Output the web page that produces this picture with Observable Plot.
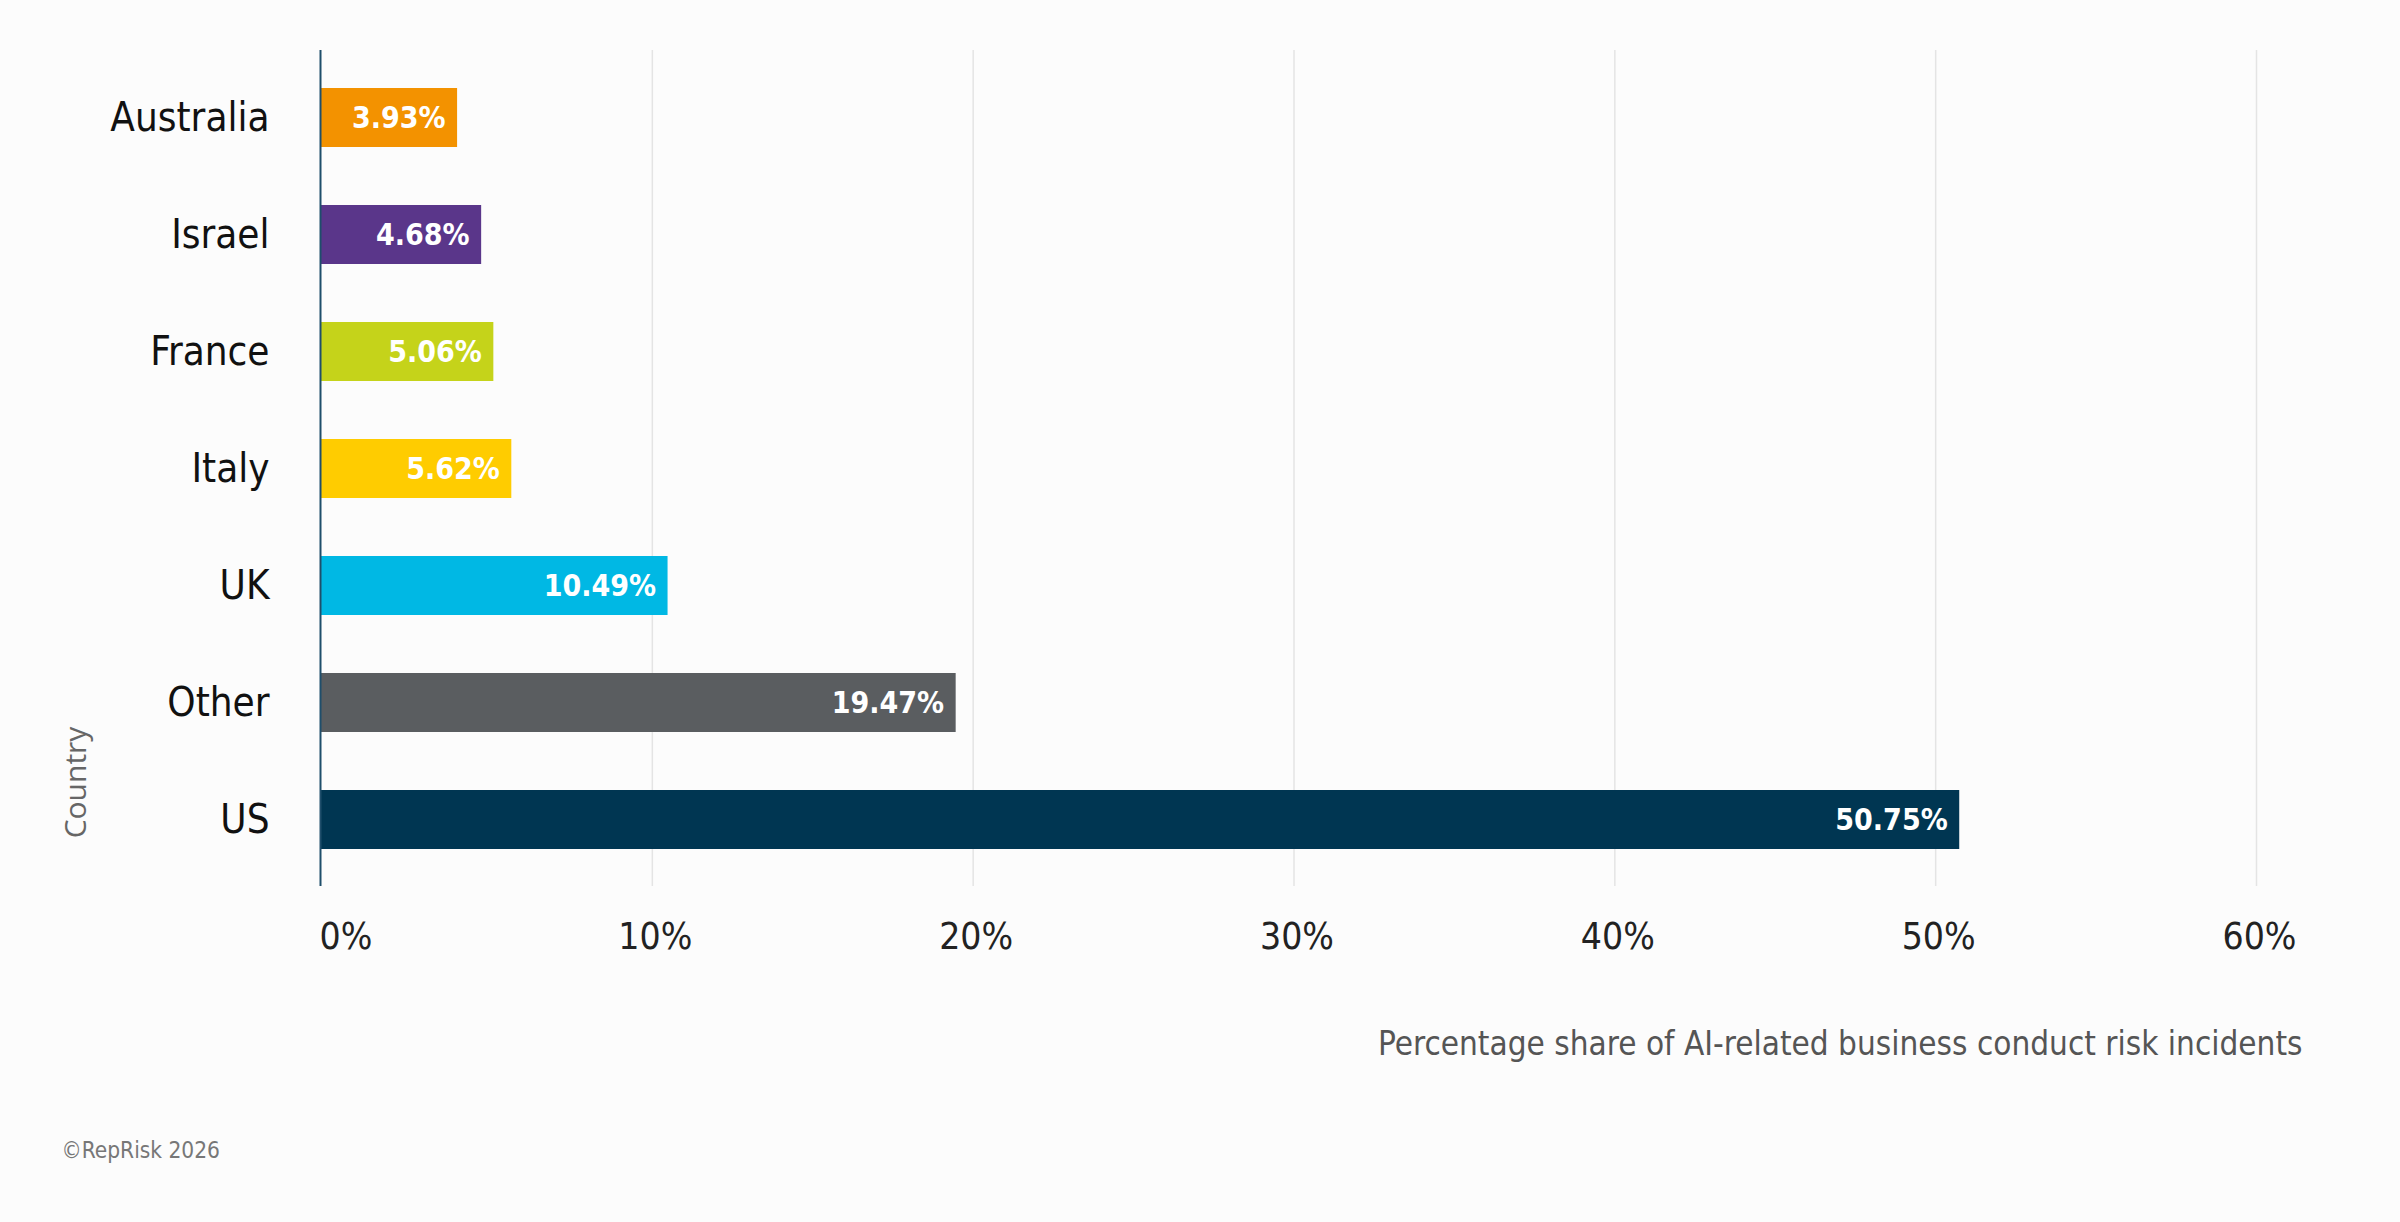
<!DOCTYPE html>
<html>
<head>
<meta charset="utf-8">
<script src="https://cdn.jsdelivr.net/npm/d3@7"></script>
<script src="https://cdn.jsdelivr.net/npm/@observablehq/plot@0.6"></script>
<style>
  html, body { margin: 0; padding: 0; background: #fcfcfc; }
  #chart svg { display: block; }
</style>
</head>
<body>
<div id="chart"></div>
<script>
const countries = ["Australia", "Israel", "France", "Italy", "UK", "Other", "US"];
const shares = [3.93, 4.68, 5.06, 5.62, 10.49, 19.47, 50.75];
const barColors = ["#f39200", "#5a368a", "#c5d31a", "#ffcc00", "#00b8e4", "#5a5d60", "#003652"];
const xTicks = [0, 10, 20, 30, 40, 50, 60];
const xTitle = "Percentage share of AI-related business conduct risk incidents";
const yTitle = "Country";
const credit = "©RepRisk 2026";

const data = countries.map((c, i) => ({country: c, value: shares[i]}));
const narrow = "'Liberation Sans Narrow', 'DejaVu Sans Condensed', 'Roboto', sans-serif";

const chart = Plot.plot({
  width: 2400,
  height: 1222,
  marginLeft: 331,
  marginRight: 144,
  marginTop: 50,
  marginBottom: 336,
  style: {background: "#fcfcfc", fontFamily: narrow},
  x: {domain: [0, 60]},
  y: {domain: countries, paddingInner: 0.5, paddingOuter: 0.3},
  color: {domain: countries, range: barColors},
  marks: [
    Plot.gridX(xTicks.slice(1), {stroke: "#e4e4e4", strokeOpacity: 1, strokeWidth: 1.5}),
    Plot.barX(data, {x: "value", y: "country", fill: "country", insetLeft: -11}),
    Plot.ruleX([0], {stroke: "#1f4e6b", strokeWidth: 2, dx: -11}),
    Plot.text(data, {
      x: "value", y: "country", text: d => d.value.toFixed(2) + "%",
      textAnchor: "end", dx: -12, fill: "white", fontWeight: "bold", fontSize: 30
    }),
    Plot.axisY({tickSize: 0, tickPadding: 62, fontSize: 40, color: "#111", label: null}),
    Plot.axisX(xTicks.slice(0, 1), {
      tickSize: 0, tickPadding: 36, fontSize: 37, color: "#222",
      tickFormat: d => d + "%", textAnchor: "start", dx: -12, label: null
    }),
    Plot.axisX(xTicks.slice(1), {
      tickSize: 0, tickPadding: 36, fontSize: 37, color: "#222",
      tickFormat: d => d + "%", dx: 3, label: null
    }),
    Plot.text([xTitle], {
      text: d => d, frameAnchor: "bottom-right", textAnchor: "end",
      lineAnchor: "middle", dx: 46, dy: 158, fontSize: 33, fill: "#555"
    }),
    Plot.text([yTitle], {
      text: d => d, frameAnchor: "left", rotate: -90, textAnchor: "middle",
      lineAnchor: "middle", dx: -255, dy: 314, fontSize: 30, fill: "#666",
      fontFamily: "'Open Sans', sans-serif"
    }),
    Plot.text([credit], {
      text: d => d, frameAnchor: "bottom-left", textAnchor: "start",
      lineAnchor: "middle", dx: -270, dy: 264, fontSize: 22.5, fill: "#777"
    })
  ]
});
document.getElementById("chart").appendChild(chart);
</script>
</body>
</html>
